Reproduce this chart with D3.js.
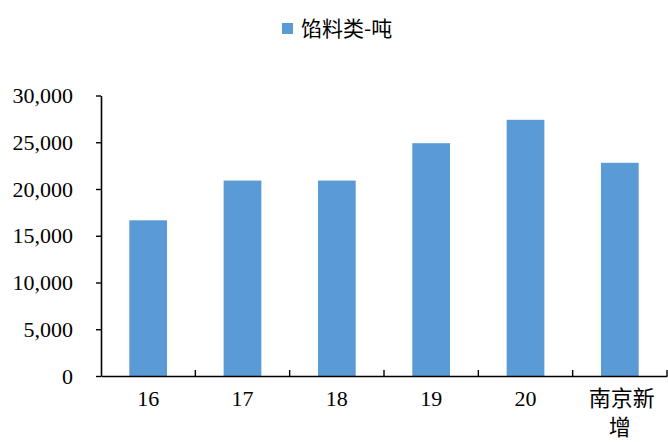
<!DOCTYPE html>
<html><head><meta charset="utf-8">
<script src="https://cdn.jsdelivr.net/npm/d3@7"></script>
<style>body{margin:0;background:#fff}svg{display:block}</style>
</head><body>
<svg id="c" width="668" height="442"></svg>
<script>
const categories = ["16", "17", "18", "19", "20", "南京新增"];
const categoryLines = [["16"], ["17"], ["18"], ["19"], ["20"], ["南京新", "增"]];
const values = [16650, 20900, 20900, 24900, 27400, 22800];
const seriesName = "馅料类-吨";
const yTicks = [0, 5000, 10000, 15000, 20000, 25000, 30000];

(function () {
const svg = d3.select("#c");
const pLeft = 101, pRight = 667, pTop = 95.5, pBottom = 376;
const serif = "'Liberation Serif','Times New Roman',serif";
const cjk = "'Noto Sans CJK SC','Liberation Serif',sans-serif";
const color = "#5B9BD5";

const x = d3.scaleBand().domain(categories).range([pLeft, pRight]).paddingInner(0.6).paddingOuter(0.3);
const xb = d3.scaleBand().domain(categories).range([pLeft, pRight]).padding(0);
const y = d3.scaleLinear().domain([0, 30000]).range([pBottom, pTop]);

// bars
svg.append("g").selectAll("rect").data(values).join("rect")
  .attr("x", (d, i) => x(categories[i]))
  .attr("y", d => y(d))
  .attr("width", x.bandwidth())
  .attr("height", d => y(0) - y(d))
  .attr("fill", color);

// y axis
const ya = svg.append("g").attr("transform", `translate(${pLeft},0)`)
  .call(d3.axisLeft(y).tickValues(yTicks).tickFormat(d3.format(",")).tickSizeInner(5).tickSizeOuter(0).tickPadding(23));
ya.select(".domain").attr("stroke", "#000").attr("stroke-width", 1.6);
ya.selectAll(".tick line").attr("stroke", "#000").attr("stroke-width", 1.4);
ya.selectAll(".tick text").attr("font-family", serif).attr("font-size", 22).attr("fill", "#000");

// x axis
const xa = svg.append("g").attr("transform", `translate(0,${pBottom})`)
  .call(d3.axisBottom(xb).tickSize(0).tickFormat(""));
xa.select(".domain").attr("stroke", "#000").attr("stroke-width", 1.6);
xa.selectAll(".tick").remove();
const bounds = categories.slice(1).map(c => xb(c)).concat([pRight]);
xa.selectAll("line.b").data(bounds).join("line").attr("class", "b")
  .attr("x1", d => d).attr("x2", d => d).attr("y1", 0).attr("y2", -6)
  .attr("stroke", "#000").attr("stroke-width", 1.4);
xa.selectAll("text.lab").data(categoryLines).join("text").attr("class", "lab")
  .attr("text-anchor", "middle")
  .attr("fill", "#000")
  .attr("font-size", 22)
  .attr("font-family", (d, i) => /^\d+$/.test(categories[i]) ? serif : cjk)
  .each(function (lines, i) {
    const t = d3.select(this);
    lines.forEach((ln, j) => {
      t.append("tspan").attr("x", xb(categories[i]) + xb.bandwidth() / 2 + (j === 0 && lines.length > 1 ? 2 : 0))
        .attr("y", 30 + j * 29).text(ln);
    });
  });

// legend
const lg = svg.append("g");
lg.append("rect").attr("x", 282).attr("y", 23).attr("width", 11).attr("height", 11).attr("fill", color);
lg.append("text").attr("x", 301).attr("y", 36).attr("font-family", cjk).attr("font-size", 21)
  .attr("fill", "#000").text(seriesName);
})();
</script>
</body></html>
